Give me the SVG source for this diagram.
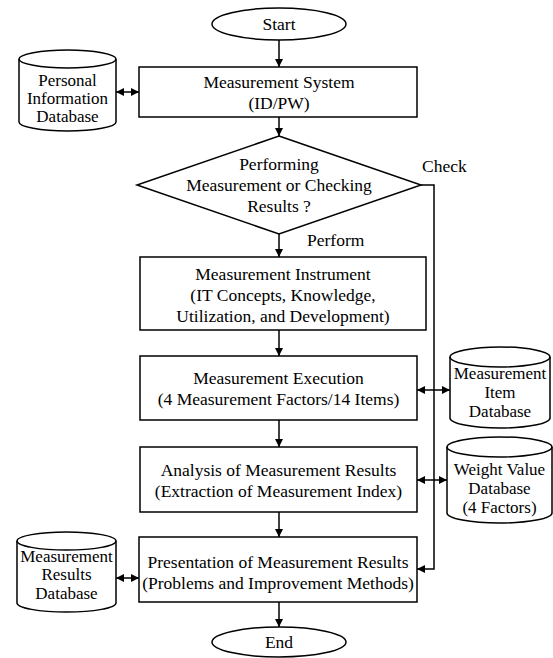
<svg xmlns="http://www.w3.org/2000/svg" width="553" height="658" viewBox="0 0 553 658">
<style>
.s{fill:#fff;stroke:#000;stroke-width:1.5}
.l{fill:none;stroke:#000;stroke-width:1.5}
text{font-family:"Liberation Serif","Times New Roman",serif;font-size:17.5px;fill:#000;text-anchor:middle}
.db{font-size:17px}
.lb{text-anchor:start}
</style>
<defs>
<marker id="ah" viewBox="0 0 10 10" refX="10" refY="5" markerWidth="8" markerHeight="8" markerUnits="userSpaceOnUse" orient="auto-start-reverse">
<path d="M0,0 L10,5 L0,10 Z" fill="#000"/>
</marker>
</defs>
<rect width="553" height="658" fill="#fff"/>
<g id="connectors">
<line class="l" x1="279" y1="40" x2="279" y2="67" marker-end="url(#ah)"/>
<line class="l" x1="279" y1="117" x2="279" y2="136" marker-end="url(#ah)"/>
<line class="l" x1="279" y1="234" x2="279" y2="257" marker-end="url(#ah)"/>
<line class="l" x1="279" y1="330" x2="279" y2="356" marker-end="url(#ah)"/>
<line class="l" x1="279" y1="420" x2="279" y2="447" marker-end="url(#ah)"/>
<line class="l" x1="279" y1="512" x2="279" y2="537" marker-end="url(#ah)"/>
<line class="l" x1="279" y1="602" x2="279" y2="627" marker-end="url(#ah)"/>
<line class="l" x1="116" y1="92" x2="139" y2="92" marker-start="url(#ah)" marker-end="url(#ah)"/>
<line class="l" x1="417" y1="390" x2="450" y2="390" marker-start="url(#ah)" marker-end="url(#ah)"/>
<line class="l" x1="417" y1="480" x2="447" y2="480" marker-start="url(#ah)" marker-end="url(#ah)"/>
<line class="l" x1="116" y1="578" x2="139" y2="578" marker-start="url(#ah)" marker-end="url(#ah)"/>
<polyline class="l" points="421,185 434,185 434,569 417,569" marker-end="url(#ah)"/>
<text class="lb" x="422" y="172">Check</text>
<text class="lb" x="307" y="246">Perform</text>
</g>
<g id="start">
<ellipse class="s" cx="279" cy="24" rx="67" ry="16"/>
<text x="279" y="30">Start</text>
</g>
<g id="system">
<rect class="s" x="139" y="67" width="278" height="50"/>
<text x="279" y="88">Measurement System</text>
<text x="279" y="109">(ID/PW)</text>
</g>
<g id="personal-db">
<path class="s" d="M19,59 A48.5,9 0 0 1 116,59 V122 A48.5,9 0 0 1 19,122 Z"/>
<path class="l" d="M19,59 A48.5,9 0 0 0 116,59"/>
<text class="db" x="67.5" y="86">Personal</text>
<text class="db" x="67.5" y="104">Information</text>
<text class="db" x="67.5" y="122">Database</text>
</g>
<g id="decision">
<polygon class="s" points="279,136 421,185 279,234 137,185"/>
<text x="279" y="170">Performing</text>
<text x="279" y="191">Measurement or Checking</text>
<text x="279" y="212">Results ?</text>
</g>
<g id="instrument">
<rect class="s" x="140" y="257" width="286" height="73"/>
<text x="283" y="279.5">Measurement Instrument</text>
<text x="283" y="300.5">(IT Concepts, Knowledge,</text>
<text x="283" y="321.5">Utilization, and Development)</text>
</g>
<g id="execution">
<rect class="s" x="140" y="356" width="277" height="64"/>
<text x="278.5" y="384">Measurement Execution</text>
<text x="278.5" y="405">(4 Measurement Factors/14 Items)</text>
</g>
<g id="item-db">
<path class="s" d="M450,357 A50,10 0 0 1 550,357 V418 A50,10 0 0 1 450,418 Z"/>
<path class="l" d="M450,357 A50,10 0 0 0 550,357"/>
<text class="db" x="500" y="379">Measurement</text>
<text class="db" x="500" y="398">Item</text>
<text class="db" x="500" y="417">Database</text>
</g>
<g id="analysis">
<rect class="s" x="140" y="447" width="277" height="65"/>
<text x="278.5" y="476">Analysis of Measurement Results</text>
<text x="278.5" y="497">(Extraction of Measurement Index)</text>
</g>
<g id="weight-db">
<path class="s" d="M447,447 A52.5,10 0 0 1 552,447 V513 A52.5,10 0 0 1 447,513 Z"/>
<path class="l" d="M447,447 A52.5,10 0 0 0 552,447"/>
<text class="db" x="499.5" y="475">Weight Value</text>
<text class="db" x="499.5" y="494">Database</text>
<text class="db" x="499.5" y="513">(4 Factors)</text>
</g>
<g id="presentation">
<rect class="s" x="139" y="537" width="278" height="65"/>
<text x="278" y="568">Presentation of Measurement Results</text>
<text x="278" y="589">(Problems and Improvement Methods)</text>
</g>
<g id="results-db">
<path class="s" d="M17,541 A49.5,9 0 0 1 116,541 V603 A49.5,9 0 0 1 17,603 Z"/>
<path class="l" d="M17,541 A49.5,9 0 0 0 116,541"/>
<text class="db" x="66.5" y="562">Measurement</text>
<text class="db" x="66.5" y="580">Results</text>
<text class="db" x="66.5" y="599">Database</text>
</g>
<g id="end">
<ellipse class="s" cx="279" cy="642" rx="67" ry="15"/>
<text x="279" y="648">End</text>
</g>
</svg>
